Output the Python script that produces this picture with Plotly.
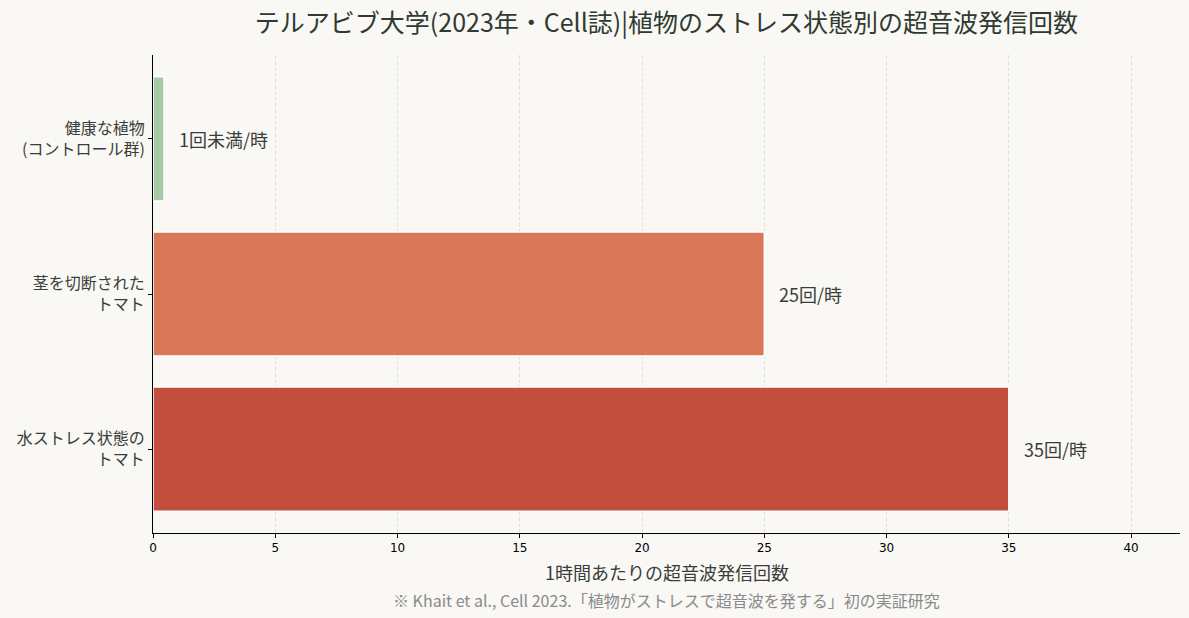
import plotly.graph_objects as go

# ------------ Data ------------

categories = ["健康な植物<br>(コントロール群)", "茎を切断された<br>トマト", "水ストレス状態の<br>トマト"]
values = [0.45, 25, 35]
value_labels = ["1回未満/時", "25回/時", "35回/時"]
bar_colors = ["#a8c9a8", "#d97858", "#c44e3e"]

title_text = "テルアビブ大学(2023年・Cell誌)|植物のストレス状態別の超音波発信回数"
x_title = "1時間あたりの超音波発信回数"
note_text = "※ Khait et al., Cell 2023.「植物がストレスで超音波を発する」初の実証研究"

FONT = "Noto Sans CJK JP"
BG = "#f9f8f4"
TEXT = "#3a3d3a"

# ------------ Figure ------------

fig = go.Figure()
fig.add_trace(go.Bar(
    x=values, y=list(range(len(categories))), orientation="h",
    marker=dict(color=bar_colors, line=dict(color="white", width=1.5)),
    width=0.8, hoverinfo="skip",
))

for i, (v, lab) in enumerate(zip(values, value_labels)):
    fig.add_annotation(x=v, y=i, text=lab, showarrow=False, xanchor="left",
                       xshift=13, font=dict(size=18, color=TEXT, family=FONT))

# axis title and source note placed under the plot
fig.add_annotation(x=0.5, y=-0.082, xref="paper", yref="paper", text=x_title,
                   yanchor="middle", showarrow=False,
                   font=dict(size=18, color=TEXT, family=FONT))
fig.add_annotation(x=0.5, y=-0.14, xref="paper", yref="paper", text=note_text,
                   yanchor="middle", showarrow=False,
                   font=dict(size=16, color="#8a8a8a", family=FONT))

fig.update_layout(
    width=1189, height=618,
    paper_bgcolor=BG, plot_bgcolor=BG,
    margin=dict(l=153, r=9, t=55, b=85),
    showlegend=False,
    font=dict(family=FONT, color=TEXT),
    title=dict(text=title_text, x=0.5605, xanchor="center", y=0.963, yanchor="middle",
               font=dict(size=25, color="#2f3a30", family=FONT)),
)
fig.update_xaxes(
    range=[0, 42], tick0=0, dtick=5, showline=True, linecolor="black", linewidth=1,
    ticks="outside", ticklen=4, tickcolor="black", zeroline=False,
    showgrid=True, gridcolor="#e0e0dc", griddash="4px,2px", gridwidth=1,
    tickfont=dict(size=12, color="black", family="DejaVu Sans"),
)
fig.update_yaxes(
    range=[2.54, -0.54], tickmode="array", tickvals=list(range(len(categories))),
    ticktext=categories, showline=True, linecolor="black", linewidth=1,
    ticks="outside", ticklen=4, tickcolor="black", showgrid=False, zeroline=False,
    tickfont=dict(size=16, color=TEXT, family=FONT),
)

fig.write_html("out.html", config={"displayModeBar": False},
               post_script="document.body.style.margin='0';")
